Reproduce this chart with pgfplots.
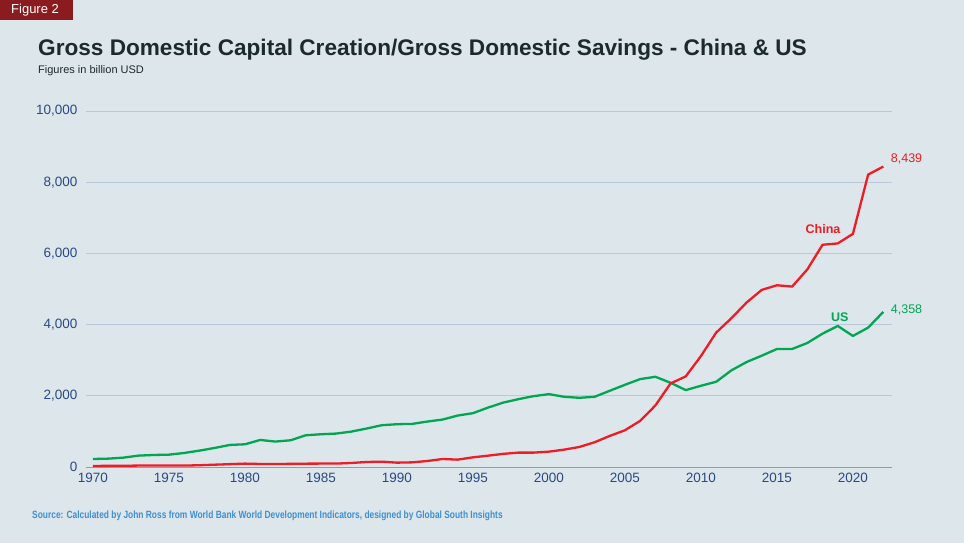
\documentclass[border=0pt]{standalone}
\usepackage{pgfplots}
\pgfplotsset{compat=1.18}
\usepackage{fontspec}
\setmainfont{Liberation Sans}
\definecolor{bg}{HTML}{DCE6EB}
\definecolor{figred}{HTML}{8A1B1E}
\definecolor{titlecol}{HTML}{1C2A2C}
\definecolor{tickcol}{HTML}{2C4A82}
\definecolor{gridcol}{HTML}{B9C9D9}
\definecolor{axiscol}{HTML}{8C9DBA}
\definecolor{chinared}{HTML}{EE1C25}
\definecolor{usgreen}{HTML}{00A651}
\definecolor{srccol}{HTML}{3F8FD2}

\pgfplotstableread{
year china us
1970 30 225
1971 32 235
1972 35 263
1973 40 320
1974 42 338
1975 45 347
1976 40 394
1977 50 460
1978 65 535
1979 80 620
1980 95 638
1981 85 760
1982 85 714
1983 88 751
1984 94 892
1985 96 920
1986 96 939
1987 113 995
1988 141 1080
1989 150 1174
1990 122 1202
1991 131 1211
1992 169 1277
1993 225 1333
1994 207 1446
1995 272 1512
1996 319 1670
1997 370 1810
1998 404 1906
1999 404 1991
2000 432 2047
2001 488 1972
2002 563 1944
2003 695 1972
2004 873 2141
2005 1033 2310
2006 1296 2469
2007 1728 2535
2008 2347 2366
2009 2545 2160
2010 3117 2282
2011 3775 2394
2012 4178 2714
2013 4620 2948
2014 4975 3127
2015 5105 3315
2016 5068 3315
2017 5551 3484
2018 6243 3746
2019 6280 3962
2020 6551 3681
2021 8215 3915
2022 8439 4358
}\gdpdata

\begin{document}
\begin{tikzpicture}
\fill[bg] (0pt,0pt) rectangle (964pt,-543pt);
\fill[figred] (0pt,0pt) rectangle (73pt,-20pt);
\node[anchor=base west,inner sep=0,text=white,font=\fontsize{13}{13}\selectfont] at (11pt,-14pt) {Figure 2};
\node[anchor=base west,inner sep=0,text=titlecol,font=\bfseries\fontsize{22.6}{22.6}\selectfont] at (38pt,-56pt) {Gross Domestic Capital Creation/Gross Domestic Savings - China \& US};
\node[anchor=base west,inner sep=0,text=titlecol,font=\fontsize{11}{11}\selectfont] at (38pt,-74pt) {Figures in billion USD};
\node[anchor=base west,inner sep=0,text=srccol,font=\bfseries\fontsize{10.5}{10.5}\selectfont] at (32pt,-518pt) {\scalebox{0.80}[1]{Source: Calculated by John Ross from World Bank World Development Indicators, designed by Global South Insights}};
\begin{axis}[
    at={(86pt,-467pt)}, anchor=south west,
    scale only axis, width=806pt, height=356pt,
    xmin=1969.54, xmax=2022.57, ymin=0, ymax=10000,
    axis x line*=bottom, axis y line*=left,
    x axis line style={draw=axiscol, line width=1pt, -},
    y axis line style={draw=none},
    major tick length=0pt,
    xtick={1970,1975,...,2020},
    ytick={0,2000,...,10000},
    scaled y ticks=false,
    ymajorgrids, grid style={gridcol, line width=0.8pt},
    xticklabel style={/pgf/number format/1000 sep={}, yshift=-3pt},
    yticklabel style={/pgf/number format/1000 sep={,}, xshift=-5pt},
    /pgf/number format/assume math mode=true,
    tick label style={text=tickcol, font=\fontsize{13.5}{13.5}\selectfont},
    clip=false,
]
\addplot[usgreen, line width=2.3pt, line join=round] table[x=year, y=us] {\gdpdata};
\addplot[chinared, line width=2.3pt, line join=round] table[x=year, y=china] {\gdpdata};
\node[anchor=west, text=chinared, font=\fontsize{12.5}{12.5}\selectfont] at (axis cs:2022,8439) [xshift=4pt, yshift=8pt] {8,439};
\node[anchor=west, text=usgreen, font=\fontsize{12.5}{12.5}\selectfont] at (axis cs:2022,4358) [xshift=4pt, yshift=2pt] {4,358};
\node[text=chinared, font=\bfseries\fontsize{12.5}{12.5}\selectfont] at (axis cs:2018.03,6680) {China};
\node[text=usgreen, font=\bfseries\fontsize{12.5}{12.5}\selectfont] at (axis cs:2019.14,4222) {US};
\end{axis}
\end{tikzpicture}
\end{document}
